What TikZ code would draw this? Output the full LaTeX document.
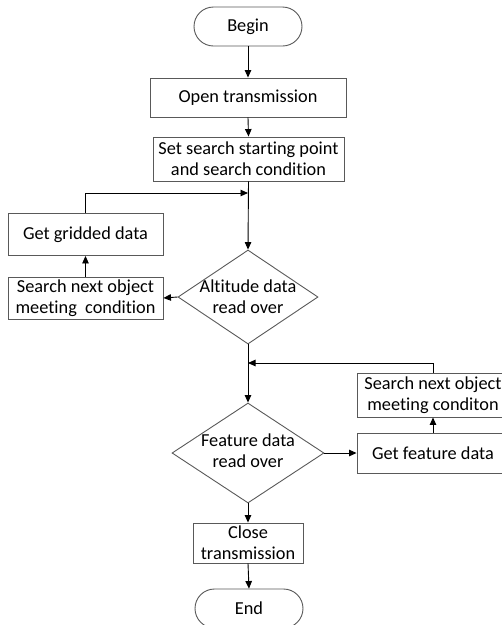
\documentclass[tikz,border=0pt]{standalone}
\usepackage{fontspec}
\setmainfont{Carlito}[Ligatures=NoCommon]
\usetikzlibrary{shapes.misc,shapes.geometric,arrows.meta}

\tikzset{
  box/.style={draw=black!65, line width=0.9pt, rectangle, inner sep=0pt, align=center},
  term/.style={draw=black!65, line width=0.9pt, rounded rectangle, inner sep=0pt,
               minimum width=108pt, minimum height=39pt},
  dia/.style={draw=black!65, line width=0.9pt, diamond, inner sep=0pt},
  lbl/.style={align=center, inner sep=0pt},
  arr/.style={draw=black, line width=0.9pt, -{Triangle[length=7.5pt,width=6.5pt]}},
  ln/.style={draw=black, line width=0.9pt}
}

\begin{document}
\begin{tikzpicture}[x=1pt, y=-1pt, font=\fontsize{18.3}{21}\selectfont]
\useasboundingbox (0,0) rectangle (502,625);

% main column
\node[term] (begin) at (248,26.5) {Begin};
\node[box, minimum width=196pt, minimum height=39pt] (open) at (248,97.5) {Open transmission};
\node[box, minimum width=191pt, minimum height=44pt] (setsp) at (248.5,159)
  {Set search starting point\\and search condition};
\node[dia, minimum width=140pt, minimum height=94pt] (alt) at (248,297) {};
\node[lbl] (altt) at (248,297) {Altitude data\\read over};
\node[dia, minimum width=152pt, minimum height=100pt] (feat) at (248,453) {};
\node[lbl] (featt) at (248,451) {Feature data\\read over};
\node[box, minimum width=110pt, minimum height=40pt] (close) at (248,543) {Close\\transmission};
\node[term] (end) at (249,608.5) {End};

% left loop
\node[box, minimum width=155pt, minimum height=42pt] (grid) at (85.5,234.5) {Get gridded data};
\node[box, minimum width=155pt, minimum height=42pt] (srchL) at (85.5,298)
  {Search next object\\meeting~ condition};

% right loop
\node[box, minimum width=152pt, minimum height=44pt] (srchR) at (433,395)
  {Search next object\\meeting conditon};
\node[box, minimum width=152pt, minimum height=40pt] (getf) at (433,453) {Get feature data};

\coordinate (j1) at (248,193);
\coordinate (j2) at (248,363);

% connectors
\draw[arr] (begin.south) -- (open.north);
\draw[arr] (open.south) -- (setsp.north);
\draw[arr] (setsp.south) -- (alt.north);
\draw[arr] (alt.west) -- (srchL.east);
\draw[arr] (srchL.north) -- (grid.south);
\draw[arr] (grid.north) |- (j1);
\draw[arr] (alt.south) -- (feat.north);
\draw[arr] (feat.east) -- (getf.west);
\draw[arr] (getf.north) -- (srchR.south);
\draw[arr] (srchR.north) |- (j2);
\draw[arr] (feat.south) -- (close.north);
\draw[arr] (close.south) -- (end.north);
\end{tikzpicture}
\end{document}
